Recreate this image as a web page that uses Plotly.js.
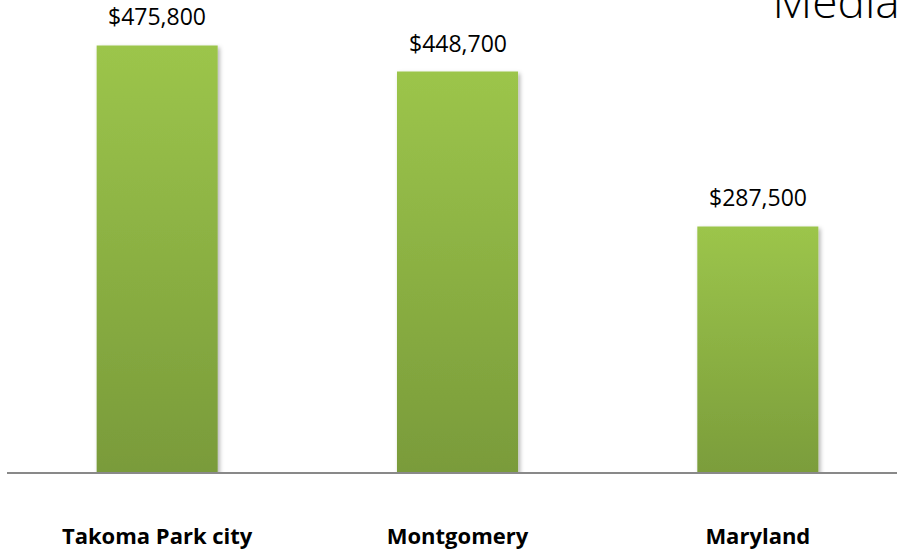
<!DOCTYPE html>
<html>
<head>
<meta charset="utf-8">
<script src="https://cdn.plot.ly/plotly-3.0.1.min.js"></script>
<style>
  html, body { margin: 0; padding: 0; overflow: hidden; background: #fff; }
  #plotDiv { width: 910px; height: 554px; }
</style>
</head>
<body>
<div id="plotDiv"></div>
<script>
// places and median values
var places = ['Takoma Park city', 'Montgomery', 'Maryland'];
var values = [475800, 448700, 287500];
var valueLabels = ['$475,800', '$448,700', '$287,500'];

var bars = {
  type: 'bar',
  x: places,
  y: values,
  marker: { color: '#8BAF44' },
  hoverinfo: 'skip'
};

// value labels sit above each bar
var notes = [];
for (let i = 0; i < places.length; i++) {
  notes.push({
    x: places[i],
    y: values[i],
    xref: 'x',
    yref: 'y',
    text: valueLabels[i],
    showarrow: false,
    yanchor: 'bottom',
    yshift: 11,
    font: { family: 'Open Sans', size: 23, color: '#000' }
  });
}

var layout = {
  width: 910,
  height: 554,
  margin: { l: 7, r: 2, t: 20, b: 82, pad: 0 },
  paper_bgcolor: '#fff',
  plot_bgcolor: '#fff',
  showlegend: false,
  bargap: 0.597,
  title: {
    text: 'Median Home Value',
    x: 0.849,
    xanchor: 'left',
    y: 0.997,
    yanchor: 'middle',
    font: { family: 'Open Sans', size: 46, color: '#000', weight: 300 }
  },
  xaxis: {
    showline: true,
    linecolor: '#898989',
    linewidth: 1.5,
    ticks: '',
    ticklabelstandoff: 44,
    tickfont: { family: 'Open Sans', size: 22, color: '#000', weight: 'bold' },
    showgrid: false,
    zeroline: false
  },
  yaxis: {
    range: [32000, 502300],
    visible: false,
    showgrid: false,
    zeroline: false
  },
  annotations: notes
};

Plotly.newPlot('plotDiv', [bars], layout, { displayModeBar: false, staticPlot: true }).then(function (gd) {
  // light-to-dark green fill like the original
  var svg = gd.querySelector('.main-svg');
  var ns = 'http://www.w3.org/2000/svg';
  var defs = svg.querySelector('defs') || svg.insertBefore(document.createElementNS(ns, 'defs'), svg.firstChild);
  var grad = document.createElementNS(ns, 'linearGradient');
  grad.setAttribute('id', 'barGrad');
  grad.setAttribute('x1', '0'); grad.setAttribute('y1', '0');
  grad.setAttribute('x2', '0'); grad.setAttribute('y2', '1');
  [['0', '#9CC54B'], ['1', '#779839']].forEach(function (s) {
    var st = document.createElementNS(ns, 'stop');
    st.setAttribute('offset', s[0]);
    st.setAttribute('stop-color', s[1]);
    grad.appendChild(st);
  });
  defs.appendChild(grad);
  var filt = document.createElementNS(ns, 'filter');
  filt.setAttribute('id', 'barShadow');
  filt.setAttribute('x', '-10%'); filt.setAttribute('y', '-10%');
  filt.setAttribute('width', '130%'); filt.setAttribute('height', '120%');
  filt.innerHTML = '<feDropShadow dx="2" dy="2" stdDeviation="2" flood-color="#000" flood-opacity="0.3"/>';
  defs.appendChild(filt);
  gd.querySelectorAll('.bars .point path').forEach(function (p) {
    p.style.fill = 'url(#barGrad)';
    p.setAttribute('filter', 'url(#barShadow)');
  });
});
</script>
</body>
</html>
